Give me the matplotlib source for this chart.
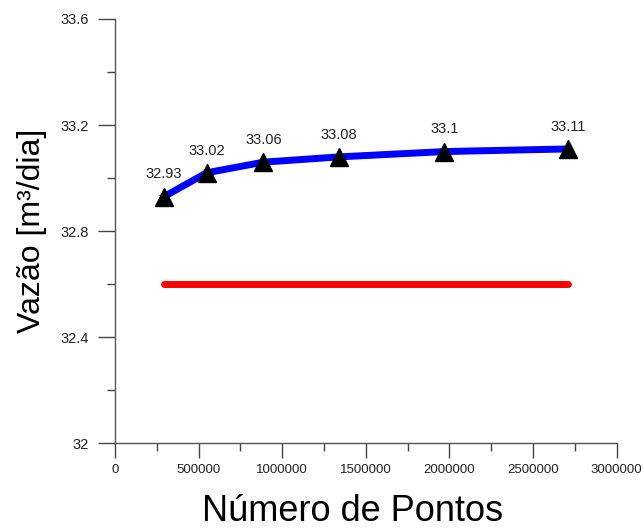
import numpy as np
import matplotlib
matplotlib.use("Agg")
import matplotlib.pyplot as plt
from matplotlib.ticker import MultipleLocator, FuncFormatter

plt.rcParams['font.family'] = ['Liberation Sans', 'DejaVu Sans']

# mesh refinement study: number of points vs computed flow rate
n_pontos = [293000, 548000, 887000, 1340000, 1970000, 2710000]
vazao = [32.93, 33.02, 33.06, 33.08, 33.10, 33.11]
vazao_labels = ['32.93', '33.02', '33.06', '33.08', '33.1', '33.11']
# reference value
vazao_ref = 32.6

fig = plt.figure(figsize=(6.44, 5.30), dpi=100)
ax = fig.add_axes([0.1786, 0.1636, 0.7790, 0.8006])

ax.plot([n_pontos[0], n_pontos[-1]], [vazao_ref, vazao_ref], color='#ff0000',
        lw=5, solid_capstyle='round', zorder=2)
ax.plot(n_pontos, vazao, color='#0000ff', lw=5, zorder=3)
ax.plot(n_pontos, vazao, ls='none', marker='^', ms=13, color='black', zorder=4)

for x, y, s in zip(n_pontos, vazao, vazao_labels):
    ax.annotate(s, xy=(x, y), xytext=(0, 16), textcoords='offset points',
                ha='center', va='center', fontsize=10.5, color='#222222')

ax.set_xlim(0, 3000000)
ax.set_ylim(32, 33.6)
ax.xaxis.set_major_locator(MultipleLocator(500000))
ax.xaxis.set_minor_locator(MultipleLocator(250000))
ax.yaxis.set_major_locator(MultipleLocator(0.4))
ax.yaxis.set_minor_locator(MultipleLocator(0.2))
ax.xaxis.set_major_formatter(FuncFormatter(lambda v, p: '%d' % round(v)))
ax.yaxis.set_major_formatter(FuncFormatter(lambda v, p: '%g' % round(v, 2)))

for side in ['top', 'right']:
    ax.spines[side].set_visible(False)
for side in ['left', 'bottom']:
    ax.spines[side].set_color('#555555')
    ax.spines[side].set_linewidth(1.0)

ax.tick_params(axis='y', which='major', direction='out', length=12, width=1,
               color='#444444', labelsize=10.5, labelcolor='#222222', pad=7)
ax.tick_params(axis='y', which='minor', direction='out', length=6, width=1,
               color='#444444')
ax.tick_params(axis='x', which='major', direction='out', length=11, width=1,
               color='#444444', labelsize=9.5, labelcolor='#222222', pad=4)
ax.tick_params(axis='x', which='minor', direction='out', length=6, width=1,
               color='#444444')

fig.text(0.548, 0.034, 'Número de Pontos', fontsize=26, ha='center', va='center')
fig.text(0.050, 0.564, 'Vazão [m³/dia]', fontsize=23, rotation=90,
         ha='center', va='center')

fig.savefig('out.png', dpi=100)
